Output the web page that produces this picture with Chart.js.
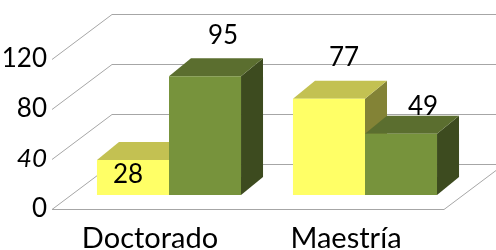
<!DOCTYPE html>
<html>
<head>
<meta charset="utf-8">
<script src="https://cdn.jsdelivr.net/npm/chart.js@4/dist/chart.umd.min.js"></script>
<style>
  html, body { margin: 0; padding: 0; background: #fff; }
  #wrap { position: relative; width: 496px; height: 250px; }
</style>
</head>
<body>
<div id="wrap"><canvas id="chart"></canvas></div>
<script>
/* ── DATA ───────────────────────────────────────────── */
const categories = ['Doctorado', 'Maestría'];
const serie1 = [28, 77];
const serie2 = [95, 49];
const yTicks = [0, 40, 80, 120];

/* ── 3D LOOK ────────────────────────────────────────── */
const FRONT = { dx: -19, dy: 14 };   // floor front edge, relative to bar plane
const BACK = { dx: 41, dy: -31 };    // back wall, relative to bar plane
const DEPTH = { dx: 22, dy: -18 };   // bar depth
const GRID = '#a6a6a6';

const faces = [
    { front: '#FFFF66', top: '#C3C152', side: '#838336' },
    { front: '#77933C', top: '#5B6E2F', side: '#3D4B1F' },
];
// label shift from bar front-top centre, per dataset / category
const labelShift = [
    [[-5, 15], [15, -41]],
    [[18, -41], [22, -27]],
];

const TXT = "Lato, 'Open Sans', sans-serif";

const box3d = {
    id: 'box3d',
    beforeDatasetsDraw(chart) {
        const { ctx, chartArea: a } = chart;
        const ys = chart.scales.y;
        ctx.save();
        ctx.strokeStyle = GRID;
        ctx.lineWidth = 1;
        ys.ticks.forEach(t => {
            const y = ys.getPixelForValue(t.value);
            ctx.beginPath();
            ctx.moveTo(a.left + FRONT.dx, y + FRONT.dy + 0.5);
            ctx.lineTo(a.left + BACK.dx, y + BACK.dy + 0.5);
            ctx.lineTo(a.right + BACK.dx, y + BACK.dy + 0.5);
            if (t.value === 0) {
                ctx.moveTo(a.left + FRONT.dx, y + FRONT.dy + 0.5);
                ctx.lineTo(a.right + FRONT.dx, y + FRONT.dy + 0.5);
                ctx.lineTo(a.right + BACK.dx, y + BACK.dy + 0.5);
            }
            ctx.stroke();
        });

        // top and side faces, drawn left to right; front faces come from Chart.js
        categories.forEach((c, i) => {
            chart.data.datasets.forEach((ds, d) => {
                const bar = chart.getDatasetMeta(d).data[i];
                const { x, y, base, width } = bar.getProps(['x', 'y', 'base', 'width'], true);
                const l = x - width / 2, r = x + width / 2;
                ctx.fillStyle = faces[d].side;
                ctx.beginPath();
                ctx.moveTo(r, y);
                ctx.lineTo(r + DEPTH.dx, y + DEPTH.dy);
                ctx.lineTo(r + DEPTH.dx, base + DEPTH.dy);
                ctx.lineTo(r, base);
                ctx.closePath();
                ctx.fill();
                ctx.fillStyle = faces[d].top;
                ctx.beginPath();
                ctx.moveTo(l, y);
                ctx.lineTo(l + DEPTH.dx, y + DEPTH.dy);
                ctx.lineTo(r + DEPTH.dx, y + DEPTH.dy);
                ctx.lineTo(r, y);
                ctx.closePath();
                ctx.fill();
            });
        });
        ctx.restore();
    },
    afterDatasetsDraw(chart) {
        const { ctx } = chart;
        ctx.save();
        ctx.font = '26px ' + TXT;
        ctx.fillStyle = '#000';
        ctx.textAlign = 'center';
        ctx.textBaseline = 'middle';
        chart.data.datasets.forEach((ds, d) => {
            chart.getDatasetMeta(d).data.forEach((bar, i) => {
                const [sx, sy] = labelShift[d][i];
                ctx.fillText(String(ds.data[i]), bar.x + sx, bar.y + sy);
            });
        });
        ctx.restore();
    }
};

new Chart(document.getElementById('chart'), {
    type: 'bar',
    data: {
        labels: categories,
        datasets: [
            { label: 'Serie 1', data: serie1, backgroundColor: faces[0].front },
            { label: 'Serie 2', data: serie2, backgroundColor: faces[1].front },
        ],
    },
    options: {
        responsive: true,
        maintainAspectRatio: false,
        animation: false,
        devicePixelRatio: 1,
        layout: { padding: { top: 45, right: 33, left: 0, bottom: 0 } },
        datasets: { bar: { categoryPercentage: 0.735, barPercentage: 1, borderWidth: 0 } },
        plugins: { legend: { display: false }, tooltip: { enabled: false } },
        scales: {
            x: {
                grid: { display: false, drawTicks: false },
                border: { display: false },
                ticks: { color: '#000', font: { family: TXT, size: 29 }, labelOffset: FRONT.dx, padding: 26 },
                afterFit: s => { s.height = 55; },
            },
            y: {
                min: 0,
                max: 120,
                afterBuildTicks: s => { s.ticks = yTicks.map(v => ({ value: v })); },
                grid: { display: false, drawTicks: false },
                border: { display: false },
                ticks: {
                    color: '#000',
                    padding: 24,
                    labelOffset: FRONT.dy,
                    font: ctx => ctx.index === 1
                        ? { family: TXT, size: 26, style: 'italic' }
                        : { family: TXT, size: 26, style: 'normal' },
                },
                afterFit: s => { s.width = 71; },
            },
        },
    },
    plugins: [box3d],
});
</script>
</body>
</html>
